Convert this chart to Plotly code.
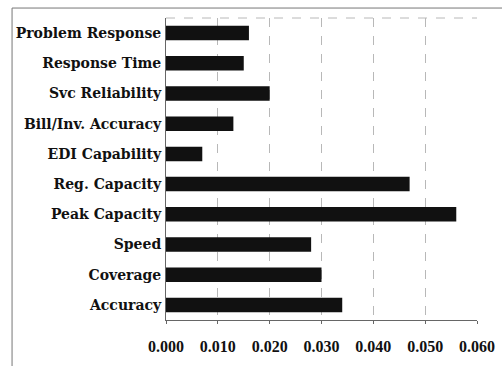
import plotly.graph_objects as go

categories = ["Accuracy", "Coverage", "Speed", "Peak Capacity", "Reg. Capacity",
              "EDI Capability", "Bill/Inv. Accuracy", "Svc Reliability",
              "Response Time", "Problem Response"]
values = [0.034, 0.030, 0.028, 0.056, 0.047, 0.007, 0.013, 0.020, 0.015, 0.016]
tick_vals = [0.0, 0.01, 0.02, 0.03, 0.04, 0.05, 0.06]
tick_text = ["0.000", "0.010", "0.020", "0.030", "0.040", "0.050", "0.060"]

fig = go.Figure(go.Bar(x=values, y=categories, orientation="h",
                       marker=dict(color="#111111", line=dict(width=0))))

yfont = dict(family="DejaVu Serif", size=14, color="#111111", weight="bold")
xfont = dict(family="Liberation Serif", size=16, color="#111111", weight="bold")
fig.update_layout(
    width=502, height=366,
    margin=dict(l=166, r=25, t=18, b=46),
    paper_bgcolor="white", plot_bgcolor="white",
    bargap=0.52, showlegend=False,
    font=xfont,
    xaxis=dict(range=[0, 0.06], tickvals=tick_vals, ticktext=tick_text,
               showgrid=True, gridcolor="#b8b8b8", griddash="dash", gridwidth=1,
               showline=True, linecolor="#666666", mirror=False,
               ticks="outside", ticklen=3, tickcolor="#666666",
               tickfont=xfont, ticklabelstandoff=9, automargin=False,
               zeroline=False),
    yaxis=dict(showline=True, linecolor="#666666", ticks="", automargin=False,
               tickfont=yfont, ticklabelstandoff=1),
)
fig.add_shape(type="line", xref="paper", yref="paper", x0=0, x1=1, y0=1, y1=1,
              line=dict(color="#b8b8b8", width=1, dash="dash"))
fig.add_shape(type="rect", xref="paper", yref="paper", x0=-0.495, x1=1.1, y0=-0.2, y1=1.033,
              line=dict(color="#777777", width=1))
fig.write_html("out.html")
